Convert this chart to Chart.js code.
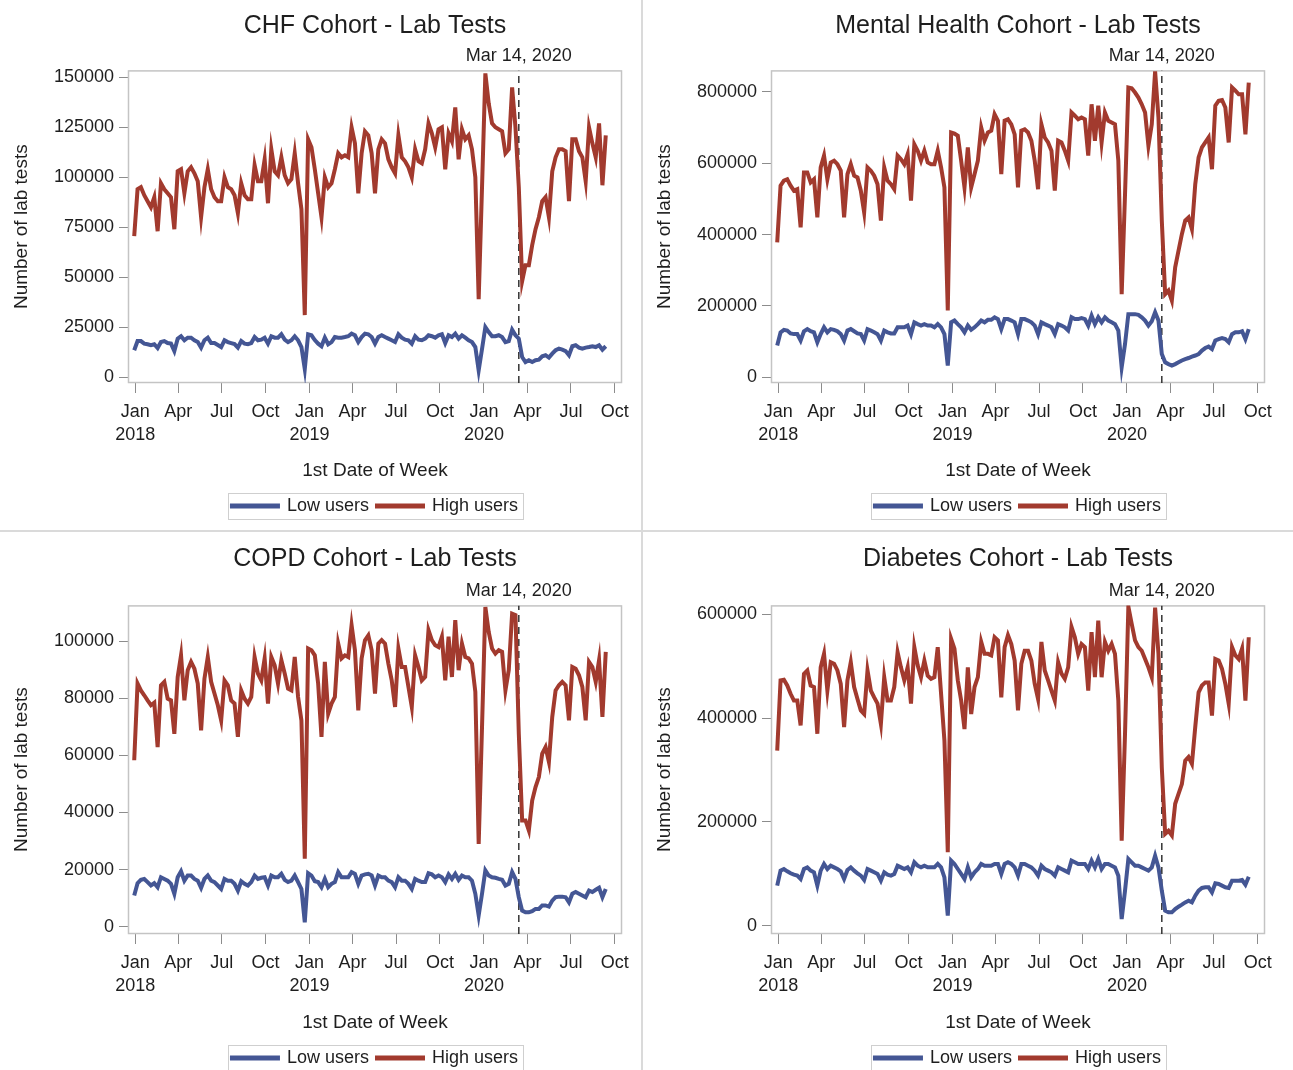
<!DOCTYPE html>
<html>
<head>
<meta charset="utf-8">
<script src="https://cdn.jsdelivr.net/npm/chart.js@4.4.1/dist/chart.umd.min.js"></script>
<style>
html,body{margin:0;padding:0;background:#fff;width:1293px;height:1070px;overflow:hidden;}
.panel{position:absolute;}
.sep-v{position:absolute;left:641px;top:0;width:2px;height:1070px;background:#dadada;}
.sep-h{position:absolute;left:0;top:530px;width:1293px;height:2px;background:#dadada;}
</style>
</head>
<body>
<div class="panel" style="left:0;top:0;width:641px;height:530px"><canvas id="c1"></canvas></div>
<div class="panel" style="left:643px;top:0;width:650px;height:530px"><canvas id="c2"></canvas></div>
<div class="panel" style="left:0;top:533px;width:641px;height:545px"><canvas id="c3"></canvas></div>
<div class="panel" style="left:643px;top:533px;width:650px;height:545px"><canvas id="c4"></canvas></div>
<div class="sep-v"></div>
<div class="sep-h"></div>
<script>
// ---------- categories / labels ----------
const FIRST_WEEK = '2017-12-30';
const WEEK_COUNT = 142;
const MARKER_DATE = '2020-03-14';
const MARKER_LABEL = 'Mar 14, 2020';
const seriesNames = ['Low users', 'High users'];
const xAxisTitle = '1st Date of Week';
const yAxisTitle = 'Number of lab tests';
const tickDates = ['2018-01-01','2018-04-01','2018-07-01','2018-10-01','2019-01-01','2019-04-01','2019-07-01','2019-10-01','2020-01-01','2020-04-01','2020-07-01','2020-10-01'];
const tickLabels = [['Jan','2018'],['Apr'],['Jul'],['Oct'],['Jan','2019'],['Apr'],['Jul'],['Oct'],['Jan','2020'],['Apr'],['Jul'],['Oct']];

// ---------- CHF ----------
const chfLow = [13400,18000,18000,16700,16400,15900,16400,14500,17500,18000,
17000,16700,13000,19200,20400,18400,19700,19700,18400,17500,
14700,18400,19700,17000,17000,16000,15000,18400,17500,17000,
16500,14700,18000,16700,16400,17000,20000,18400,18700,19700,
16700,20400,19700,19700,21400,18700,17500,18400,20400,18400,
15000,4000,21400,20900,18500,16700,15400,19700,16400,17500,
20000,19700,19700,20000,20400,21700,20900,17500,20000,21700,
21400,20000,16700,20000,20900,20000,19200,18400,17500,21400,
19700,18700,18400,16700,20400,18700,18400,19200,20900,20400,
19700,20900,21400,17000,20900,20000,21700,19200,20900,19700,
18400,17500,15000,3300,14000,25000,22500,20400,20400,20900,
20000,17500,18000,23700,20900,19200,10000,7500,8400,7500,
8400,8700,10400,10900,9700,11700,13400,14200,13700,13000,
10900,15400,15900,14700,14200,14700,15000,15400,15000,15900,
13700,15400];
const chfHigh = [70500,94000,95000,91000,88000,85000,90000,73000,97000,94000,
92000,90000,74000,103000,104000,92000,103000,105000,102000,98000,
80000,95000,104000,94000,90000,88000,88000,100000,95000,94000,
91000,82000,97000,91000,89000,89000,106000,98000,98000,109000,
87000,114000,103000,101000,110000,101000,97000,99000,112000,97000,
84000,31000,119000,115000,104000,92000,80000,100000,95000,97000,
104000,112000,110000,111000,110000,125000,117000,92000,112000,123000,
121000,112000,92000,114000,119000,117000,109000,105000,102000,121000,
110000,108000,105000,100000,114000,108000,107000,114000,127000,122000,
115000,124000,125000,104000,122000,118000,135000,109000,124000,119000,
121000,114000,100000,39000,95000,152000,137000,127000,125000,124000,
123000,112000,114000,145000,125000,95000,48000,56000,56000,66000,
74000,80000,88000,90000,80000,103000,110000,114000,114000,113000,
88000,119000,119000,113000,110000,98000,125000,117000,110000,127000,
96000,121000];
const chfYTicks = [0,25000,50000,75000,100000,125000,150000];

// ---------- Mental Health ----------
const mhLow = [89000,126000,133000,131000,123000,121000,121000,103000,129000,135000,
129000,126000,98000,121000,140000,126000,135000,133000,129000,121000,
103000,131000,135000,129000,123000,121000,103000,135000,131000,126000,
121000,103000,131000,126000,123000,123000,140000,140000,140000,145000,
121000,154000,149000,145000,149000,145000,145000,140000,149000,140000,
121000,33000,154000,159000,149000,140000,126000,145000,133000,140000,
149000,159000,154000,161000,161000,168000,163000,135000,163000,163000,
159000,154000,121000,163000,163000,159000,154000,145000,121000,154000,
149000,145000,140000,121000,149000,145000,140000,131000,168000,163000,
163000,166000,163000,145000,173000,149000,168000,154000,168000,159000,
154000,149000,131000,28000,93000,177000,177000,177000,175000,168000,
159000,145000,157000,182000,159000,65000,42000,37000,33000,37000,
42000,47000,51000,54000,58000,61000,65000,75000,82000,86000,
79000,103000,107000,110000,107000,98000,121000,126000,126000,129000,
107000,135000];
const mhHigh = [378000,537000,551000,555000,537000,523000,527000,420000,574000,574000,
546000,555000,448000,588000,621000,555000,602000,607000,597000,579000,
448000,569000,597000,565000,560000,523000,462000,588000,579000,565000,
541000,439000,588000,551000,541000,527000,621000,611000,597000,625000,
495000,653000,635000,607000,635000,602000,597000,597000,635000,588000,
532000,187000,686000,683000,677000,607000,532000,644000,532000,569000,
607000,700000,663000,686000,691000,737000,719000,569000,719000,723000,
709000,681000,532000,691000,695000,686000,663000,607000,527000,709000,
672000,658000,635000,523000,663000,658000,635000,607000,742000,733000,
723000,728000,723000,621000,765000,663000,761000,658000,742000,719000,
714000,709000,607000,233000,513000,812000,810000,798000,784000,765000,
742000,649000,709000,857000,728000,439000,233000,243000,215000,308000,
355000,401000,439000,448000,415000,541000,616000,644000,658000,672000,
583000,761000,775000,777000,756000,658000,812000,803000,793000,793000,
681000,826000];
const mhYTicks = [0,200000,400000,600000,800000];

// ---------- COPD ----------
const copdLow = [10900,15200,16400,16700,15600,14400,15200,13800,17300,16700,
16100,15000,11500,17300,19400,16100,17900,17900,16700,16100,
13600,16700,17900,16100,15600,14400,13200,16700,16100,16100,
15000,12600,15900,15000,14400,15600,17900,16700,17100,17300,
14400,17900,17300,17300,18500,16400,15600,16100,17900,15600,
13200,1500,18700,17900,15900,15600,13800,16700,13800,15000,
15600,19100,17300,17300,17300,19100,18500,15000,17900,18300,
18500,17900,14400,17900,17300,17300,16100,15600,13800,17300,
16100,16100,15000,13200,16700,16100,15600,15600,18700,18300,
17300,17900,17300,15600,18300,16700,18500,16400,17900,17300,
17300,16100,11500,3900,11500,19700,17900,17300,17100,16700,
16400,14400,15000,19100,16700,10300,5600,5000,5000,5400,
6200,6200,7400,7400,7000,9100,10300,10500,10500,10300,
8500,11500,12100,11500,10900,10300,12600,12100,12900,13600,
10300,13200];
const copdHigh = [58300,85200,82800,81100,79300,77600,78500,62900,84600,85800,
79900,79300,67600,87500,95100,79300,89900,92800,90400,85200,
68800,86900,94500,85800,81700,77600,72300,86300,84600,79300,
78200,66500,82800,79900,78200,80500,94500,88700,86300,94000,
78200,94500,91600,85200,93400,88700,83400,82800,94500,80500,
72300,23800,97500,96900,95100,85200,66500,92800,74600,78200,
80500,99200,94000,95100,94500,105700,96900,75800,94000,100400,
102100,96900,81700,99200,100400,99200,92200,86300,77000,97500,
91000,91000,84000,77000,95100,91000,86300,87500,103900,100400,
98600,98000,101600,86300,101600,87500,107400,89900,99200,94500,
94000,92200,82300,29000,70000,112000,103300,97500,95700,96900,
96300,82800,89900,109700,109200,67600,37200,37200,33700,44200,
48900,52400,60600,62900,57700,73500,82800,84600,85800,84600,
72300,91000,90400,88100,84000,72300,92800,91000,85800,93400,
73500,96300];
const copdYTicks = [0,20000,40000,60000,80000,100000];

// ---------- Diabetes ----------
const diabLow = [77200,106100,109300,104800,101000,98400,96500,90000,109300,112500,
106100,102900,77200,106100,119000,109300,115700,112500,109300,104800,
90000,107400,112500,106100,101000,96500,88100,109300,106100,102900,
99700,86800,102900,98400,96500,99700,115700,112500,109300,112500,
102900,122200,115700,112500,115700,112500,112500,112500,119000,112500,
93300,19300,125400,119000,109300,99700,90000,112500,93300,102900,
109300,119000,115700,115700,115700,119000,119000,99700,119000,122200,
119000,112500,96500,119000,119000,115700,112500,106100,96500,115700,
109300,106100,102900,96500,112500,109300,106100,102900,125400,122200,
119000,119000,119000,109300,125400,112500,128600,109300,119000,119000,
115700,112500,96500,12900,67500,128600,122200,115700,115700,112500,
109300,106100,112500,135000,112500,67500,29000,25700,25700,32000,
36700,40500,45000,48200,45000,57900,67500,72700,74000,74000,
64300,81700,80400,77200,74000,72700,86800,86800,86800,88100,
79100,94500];
const diabHigh = [337600,472700,474000,463000,447000,434000,434000,386000,485500,492000,
463000,460000,370000,498000,524000,453000,508000,505000,492000,466000,
383000,473000,508000,460000,437000,415000,408000,492000,453000,440000,
428000,389000,479000,434000,434000,460000,527000,498000,473000,498000,
428000,537000,502000,479000,511000,482000,476000,479000,537000,447000,
357000,141500,553000,534000,473000,434000,379000,498000,408000,460000,
479000,547000,524000,524000,521000,556000,550000,440000,537000,560000,
543000,511000,415000,505000,530000,530000,511000,466000,437000,547000,
492000,473000,453000,434000,508000,486000,476000,498000,576000,556000,
524000,543000,537000,453000,566000,479000,588000,479000,547000,530000,
543000,524000,434000,164000,370000,615000,582000,550000,537000,530000,
514000,498000,479000,613000,524000,305000,177000,183000,174000,235000,
254000,273000,318000,325000,312000,383000,450000,463000,469000,469000,
405000,514000,511000,495000,466000,428000,537000,521000,514000,534000,
434000,556000];
const diabYTicks = [0,200000,400000,600000];

// ---------- helpers ----------
const BASE = Date.parse('2018-01-01T00:00:00Z');
const dayNum = s => Math.round((Date.parse(s + 'T00:00:00Z') - BASE) / 86400000);
const weekX = Array.from({length: WEEK_COUNT}, (_, i) => dayNum(FIRST_WEEK) + 7 * i);
const tickDays = tickDates.map(dayNum);
const markerDay = dayNum(MARKER_DATE);

const FONT = "'Liberation Sans', Arial, sans-serif";
const TXT = '#1e1e1e';
const BLUE = '#445694';
const RED = '#A23A2E';

const panels = [
  {id:'c1', title:'CHF Cohort - Lab Tests', low:chfLow, high:chfHigh, yMin:-3000, yMax:153500, yTicks:chfYTicks, padRight:19, titlePadBottom:29.4, xAxisH:106, padBottom:5},
  {id:'c2', title:'Mental Health Cohort - Lab Tests', low:mhLow, high:mhHigh, yMin:-16000, yMax:860000, yTicks:mhYTicks, padRight:28, titlePadBottom:29.4, xAxisH:106, padBottom:5},
  {id:'c3', title:'COPD Cohort - Lab Tests', low:copdLow, high:copdHigh, yMin:-2600, yMax:112600, yTicks:copdYTicks, padRight:19, titlePadBottom:31.4, xAxisH:107, padBottom:1},
  {id:'c4', title:'Diabetes Cohort - Lab Tests', low:diabLow, high:diabHigh, yMin:-16000, yMax:617400, yTicks:diabYTicks, padRight:28, titlePadBottom:31.4, xAxisH:107, padBottom:1}
];

const framePlugin = {
  id: 'frame',
  beforeDatasetsDraw(chart) {
    const a = chart.chartArea, c = chart.ctx;
    c.save();
    c.strokeStyle = '#c4c4c4';
    c.lineWidth = 1.5;
    c.strokeRect(a.left + 0.5, a.top + 0.5, a.right - a.left - 1, a.bottom - a.top - 1);
    c.restore();
  }
};
const markerPlugin = {
  id: 'markerLabel',
  afterDatasetsDraw(chart) {
    const x = chart.scales.x.getPixelForValue(markerDay);
    const c = chart.ctx;
    c.save();
    c.font = '18px ' + FONT;
    c.fillStyle = TXT;
    c.textAlign = 'center';
    c.textBaseline = 'alphabetic';
    c.fillText(MARKER_LABEL, x, chart.chartArea.top - 9);
    c.restore();
  }
};
const legendBorderPlugin = {
  id: 'legendBorder',
  afterDraw(chart) {
    const hb = chart.legend && chart.legend.legendHitBoxes;
    if (!hb || !hb.length) return;
    let l = Infinity, r = -Infinity, cy = 0;
    hb.forEach(h => { l = Math.min(l, h.left); r = Math.max(r, h.left + h.width); cy = h.top + h.height / 2; });
    const c = chart.ctx;
    c.save();
    c.strokeStyle = '#cfcfcf';
    c.lineWidth = 1;
    c.strokeRect(Math.round(l - 4) + 0.5, Math.round(cy - 13) + 0.5, Math.round(r - l + 9), 26);
    c.restore();
  }
};

panels.forEach(p => {
  const lowData = p.low.map((v, i) => ({x: weekX[i], y: v}));
  const highData = p.high.map((v, i) => ({x: weekX[i], y: v}));
  new Chart(document.getElementById(p.id), {
    type: 'line',
    data: {
      datasets: [
        {label: seriesNames[0], data: lowData, borderColor: BLUE, backgroundColor: BLUE, borderWidth: 4, pointRadius: 0, tension: 0},
        {label: seriesNames[1], data: highData, borderColor: RED, backgroundColor: RED, borderWidth: 4, pointRadius: 0, tension: 0},
        {label: 'ref', data: [{x: markerDay, y: p.yMin}, {x: markerDay, y: p.yMax}], borderColor: '#333', borderWidth: 1.5, borderDash: [7, 5], pointRadius: 0}
      ]
    },
    options: {
      responsive: true,
      maintainAspectRatio: false,
      animation: false,
      events: [],
      layout: {padding: {left: 0, right: p.padRight, top: 0, bottom: p.padBottom}},
      plugins: {
        title: {display: true, text: p.title, color: TXT, fullSize: false,
          font: {family: FONT, size: 25, weight: 'normal'}, padding: {top: 11, bottom: p.titlePadBottom}},
        legend: {display: true, position: 'bottom', fullSize: false,
          labels: {color: TXT, font: {family: FONT, size: 18}, boxWidth: 46, boxHeight: 1, padding: 8,
            filter: item => item.datasetIndex < 2}},
        tooltip: {enabled: false}
      },
      scales: {
        x: {
          type: 'linear', min: -15, max: 1019,
          afterBuildTicks: s => { s.ticks = tickDays.map(v => ({value: v})); },
          afterFit: s => { s.height = p.xAxisH; },
          ticks: {autoSkip: false, maxRotation: 0, minRotation: 0, color: TXT, padding: 7.5,
            font: {family: FONT, size: 18, lineHeight: 1.28},
            callback: (v, i) => tickLabels[i]},
          grid: {display: true, drawOnChartArea: false, drawTicks: true, tickLength: 10, color: '#8c8c8c'},
          border: {display: false},
          title: {display: true, text: xAxisTitle, color: TXT, font: {family: FONT, size: 19}, padding: {top: 0, bottom: 7}}
        },
        y: {
          type: 'linear', min: p.yMin, max: p.yMax,
          afterBuildTicks: s => { s.ticks = p.yTicks.map(v => ({value: v})); },
          afterFit: s => { s.width = 128; },
          ticks: {color: TXT, padding: 5, font: {family: FONT, size: 18}, callback: v => String(v)},
          grid: {display: true, drawOnChartArea: false, drawTicks: true, tickLength: 9, color: '#8c8c8c'},
          border: {display: false},
          title: {display: true, text: yAxisTitle, color: TXT, font: {family: FONT, size: 19}, padding: {top: 10.6, bottom: 0}}
        }
      }
    },
    plugins: [framePlugin, markerPlugin, legendBorderPlugin]
  });
});
</script>
</body>
</html>
